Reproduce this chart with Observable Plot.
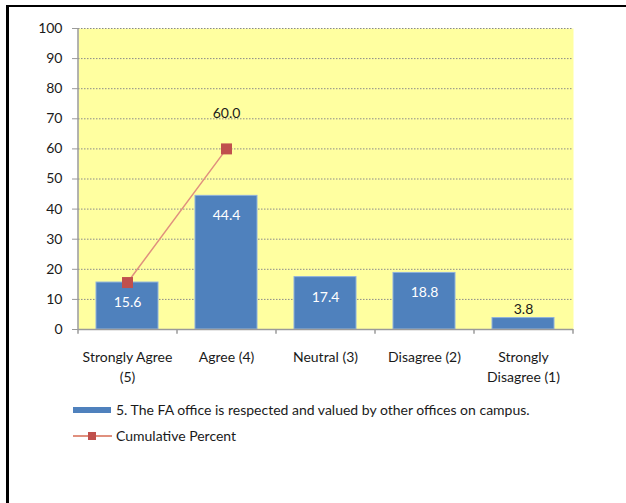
<!DOCTYPE html>
<html><head><meta charset="utf-8">
<script src="https://cdn.jsdelivr.net/npm/d3@7"></script>
<script src="https://cdn.jsdelivr.net/npm/@observablehq/plot@0.6"></script>
<style>
body{margin:0;background:#fff;font-family:Lato,"Noto Sans",sans-serif;width:626px;height:503px;overflow:hidden;position:relative;}
#frame{position:absolute;left:6px;top:5px;width:700px;height:600px;border-left:3px solid #000;border-top:2px solid #000;}
#chart{position:absolute;left:0;top:0;}
.sw{position:absolute;}
.lt{position:absolute;font-size:14px;color:#1a1a1a;line-height:16px;white-space:nowrap;}
</style></head><body>
<div id="frame"></div>
<div id="chart"></div>
<div id="legend"></div>
<script>
const categories = ["Strongly Agree (5)", "Agree (4)", "Neutral (3)", "Disagree (2)", "Strongly Disagree (1)"];
const categoryLines = ["Strongly Agree\n(5)", "Agree (4)", "Neutral (3)", "Disagree (2)", "Strongly\nDisagree (1)"];
const percents = [15.6, 44.4, 17.4, 18.8, 3.8];
const cumulativeCats = ["Strongly Agree (5)", "Agree (4)"];
const cumulative = [15.6, 60.0];
const cumulativeLabelCats = ["Agree (4)"];
const yTicks = [0, 10, 20, 30, 40, 50, 60, 70, 80, 90, 100];
const gridTicks = [10, 20, 30, 40, 50, 60, 70, 80, 90, 100];
const seriesNames = ["5. The FA office is respected and valued by other offices on campus.", "Cumulative Percent"];

const barColor = "#4F81BD", lineColor = "#E0907E", markerColor = "#C0504D", axisColor = "#9a9a9a";

const bars = categories.map((c, i) => ({cat: c, value: percents[i], label: percents[i].toFixed(1)}));
const inside = bars.filter(d => d.value >= 10);
const outside = bars.filter(d => d.value < 10);
const cum = cumulativeCats.map((c, i) => ({cat: c, value: cumulative[i], label: cumulative[i].toFixed(1)}));
const cumLabels = cum.filter(d => cumulativeLabelCats.includes(d.cat));

const W = 626, mL = 78, mR = 53;
const half = (W - mL - mR) / categories.length / 2;

const chart = Plot.plot({
  width: W, height: 400,
  marginLeft: mL, marginRight: mR, marginTop: 28, marginBottom: 71,
  style: {fontFamily: "Lato, 'Noto Sans', sans-serif", fontSize: "14px", color: "#1a1a1a", background: "transparent", overflow: "visible"},
  x: {domain: categories, paddingInner: 0.37, paddingOuter: 0.185, label: null},
  y: {domain: [0, 100], label: null},
  marks: [
    Plot.frame({fill: "#FFFFA0", stroke: null}),
    Plot.ruleY(gridTicks, {stroke: "#8a8a8a", strokeDasharray: "1.5,1.5", strokeWidth: 1}),
    Plot.barY(bars, {x: "cat", y: "value", fill: barColor, stroke: "#8fb2dc", strokeWidth: 1}),
    Plot.lineY(cum, {x: "cat", y: "value", stroke: lineColor, strokeWidth: 1.5}),
    Plot.dot(cum, {x: "cat", y: "value", symbol: "square", r: 6.2, fill: markerColor, stroke: null}),
    Plot.text(inside, {x: "cat", y: "value", text: "label", dy: 20, fill: "#ffffff", fontSize: 14}),
    Plot.text(outside, {x: "cat", y: "value", text: "label", dy: -9, fill: "#1a1a1a", fontSize: 14}),
    Plot.text(cumLabels, {x: "cat", y: "value", text: "label", dy: -35, fill: "#1a1a1a", fontSize: 14}),
    Plot.ruleY([0], {stroke: axisColor, strokeWidth: 1.5}),
    Plot.ruleX([categories[0]], {x: d => d, dx: -half, y1: 0, y2: 100, stroke: axisColor, strokeWidth: 1.5}),
    Plot.ruleX(categories, {x: d => d, dx: -half, y1: 0, y2: -1.6, stroke: axisColor, strokeWidth: 1.5}),
    Plot.ruleX([categories[categories.length - 1]], {x: d => d, dx: half, y1: 0, y2: -1.6, stroke: axisColor, strokeWidth: 1.5}),
    Plot.axisY({ticks: yTicks, tickSize: 6, tickPadding: 10, stroke: axisColor, fontSize: 14}),
    Plot.axisX({tickSize: 0, tickPadding: 19, lineHeight: 1.4, tickFormat: d => categoryLines[categories.indexOf(d)], fontSize: 14})
  ]
});
document.getElementById("chart").append(chart);

const leg = document.getElementById("legend");
leg.innerHTML = `
<div class="sw" style="left:73px;top:407px;width:38px;height:6px;background:${barColor}"></div>
<div class="lt" style="left:116px;top:402px">${seriesNames[0]}</div>
<div class="sw" style="left:73px;top:435px;width:39px;height:1.5px;background:${lineColor}"></div>
<div class="sw" style="left:88px;top:432px;width:8px;height:8px;background:${markerColor}"></div>
<div class="lt" style="left:116px;top:428px">${seriesNames[1]}</div>`;
</script>
</body></html>
